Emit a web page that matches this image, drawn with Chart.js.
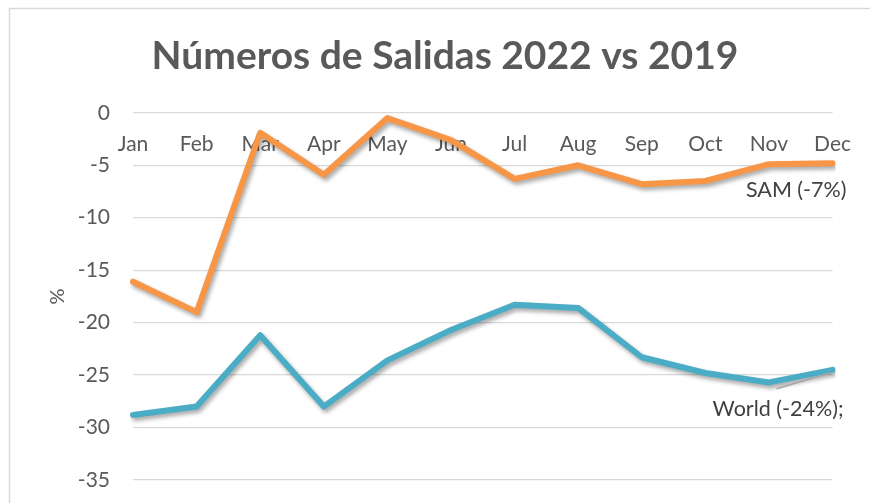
<!DOCTYPE html>
<html>
<head>
<meta charset="utf-8">
<script src="https://cdn.jsdelivr.net/npm/chart.js@4.4.1/dist/chart.umd.min.js"></script>
<style>
  html, body { margin: 0; padding: 0; background: #ffffff; }
  #wrap { width: 870px; height: 503px; position: relative; }
</style>
</head>
<body>
<div id="wrap"><canvas id="c" width="870" height="503"></canvas></div>
<script>
const categories = ['Jan', 'Feb', 'Mar', 'Apr', 'May', 'Jun', 'Jul', 'Aug', 'Sep', 'Oct', 'Nov', 'Dec'];
const samValues = [-16.1, -19.0, -1.9, -5.9, -0.5, -2.6, -6.3, -5.0, -6.8, -6.5, -4.9, -4.8];
const worldValues = [-28.8, -28.0, -21.2, -28.0, -23.6, -20.7, -18.3, -18.6, -23.3, -24.8, -25.7, -24.5];
const seriesLabels = ['SAM (-7%)', 'World (-24%);'];
const titleText = 'Números de Salidas 2022 vs 2019';
const yAxisTitle = '%';
const yMin = -35, yMax = 0, yStep = 5;

const FONT = 'Lato, "Open Sans", sans-serif';
const TEXT = '#595959';

const framePlugin = {
  id: 'frame',
  beforeDraw(chart) {
    const ctx = chart.ctx;
    ctx.save();
    ctx.strokeStyle = '#D9D9D9';
    ctx.lineWidth = 1.5;
    ctx.beginPath();
    ctx.moveTo(9.5, chart.height);
    ctx.lineTo(9.5, 8.5);
    ctx.lineTo(chart.width, 8.5);
    ctx.stroke();
    ctx.restore();
  }
};

const shadowPlugin = {
  id: 'shadow',
  beforeDatasetDraw(chart) {
    const ctx = chart.ctx;
    ctx.save();
    ctx.shadowColor = 'rgba(0,0,0,0.35)';
    ctx.shadowBlur = 4;
    ctx.shadowOffsetX = 2;
    ctx.shadowOffsetY = 3;
  },
  afterDatasetDraw(chart) {
    chart.ctx.restore();
  }
};

const endLabelPlugin = {
  id: 'endLabels',
  afterDatasetsDraw(chart) {
    const ctx = chart.ctx;
    ctx.save();
    ctx.font = '21.5px ' + FONT;
    ctx.fillStyle = '#404040';
    ctx.textAlign = 'right';
    ctx.textBaseline = 'middle';
    // SAM
    const m0 = chart.getDatasetMeta(0).data;
    const p0 = m0[m0.length - 1];
    ctx.fillText(seriesLabels[0], p0.x + 14, p0.y + 27);
    // World with leader line
    const m1 = chart.getDatasetMeta(1).data;
    const p1 = m1[m1.length - 1];
    ctx.strokeStyle = '#A6A6A6';
    ctx.lineWidth = 1.5;
    ctx.beginPath();
    ctx.moveTo(p1.x - 56, p1.y + 19);
    ctx.lineTo(p1.x - 2, p1.y + 3);
    ctx.stroke();
    ctx.fillText(seriesLabels[1], p1.x + 11, p1.y + 39);
    ctx.restore();
  }
};

new Chart(document.getElementById('c'), {
  type: 'line',
  data: {
    labels: categories,
    datasets: [
      {
        label: seriesLabels[0],
        data: samValues,
        borderColor: '#F79646',
        backgroundColor: '#F79646',
        borderWidth: 6,
        pointRadius: 0,
        pointHoverRadius: 0,
        tension: 0,
        borderCapStyle: 'round',
        borderJoinStyle: 'round'
      },
      {
        label: seriesLabels[1],
        data: worldValues,
        borderColor: '#4BACC6',
        backgroundColor: '#4BACC6',
        borderWidth: 6,
        pointRadius: 0,
        pointHoverRadius: 0,
        tension: 0,
        borderCapStyle: 'round',
        borderJoinStyle: 'round'
      }
    ]
  },
  options: {
    responsive: false,
    animation: false,
    events: [],
    layout: { padding: { left: 20, right: 0, top: 0, bottom: 23 } },
    plugins: {
      legend: { display: false },
      tooltip: { enabled: false },
      title: {
        display: true,
        text: titleText,
        color: TEXT,
        font: { family: FONT, size: 39, weight: 'bold' },
        padding: { top: 33, bottom: 33 }
      }
    },
    scales: {
      x: {
        type: 'category',
        position: { y: 0 },
        offset: false,
        grid: { display: false, drawTicks: false },
        border: { display: false },
        ticks: {
          color: TEXT,
          font: { family: FONT, size: 21 },
          padding: 19,
          maxRotation: 0,
          autoSkip: false
        }
      },
      y: {
        min: yMin,
        max: yMax,
        position: 'left',
        grid: { color: '#D9D9D9', lineWidth: 1.3, drawTicks: false },
        border: { display: false },
        ticks: {
          stepSize: yStep,
          color: TEXT,
          font: { family: FONT, size: 21 },
          padding: 23
        },
        title: {
          display: true,
          text: yAxisTitle,
          color: TEXT,
          font: { family: FONT, size: 20 },
          padding: { top: 26, bottom: 0 }
        },
        afterFit(scale) {
          scale.width = 113;
          scale.paddingBottom = 0;
          scale.paddingTop = 0;
        }
      },
      y2: {
        position: 'right',
        display: true,
        min: yMin,
        max: yMax,
        grid: { display: false, drawTicks: false },
        border: { display: false },
        ticks: { display: false },
        afterFit(scale) {
          scale.width = 37;
          scale.paddingBottom = 0;
          scale.paddingTop = 0;
        }
      }
    }
  },
  plugins: [framePlugin, shadowPlugin, endLabelPlugin]
});
</script>
</body>
</html>
